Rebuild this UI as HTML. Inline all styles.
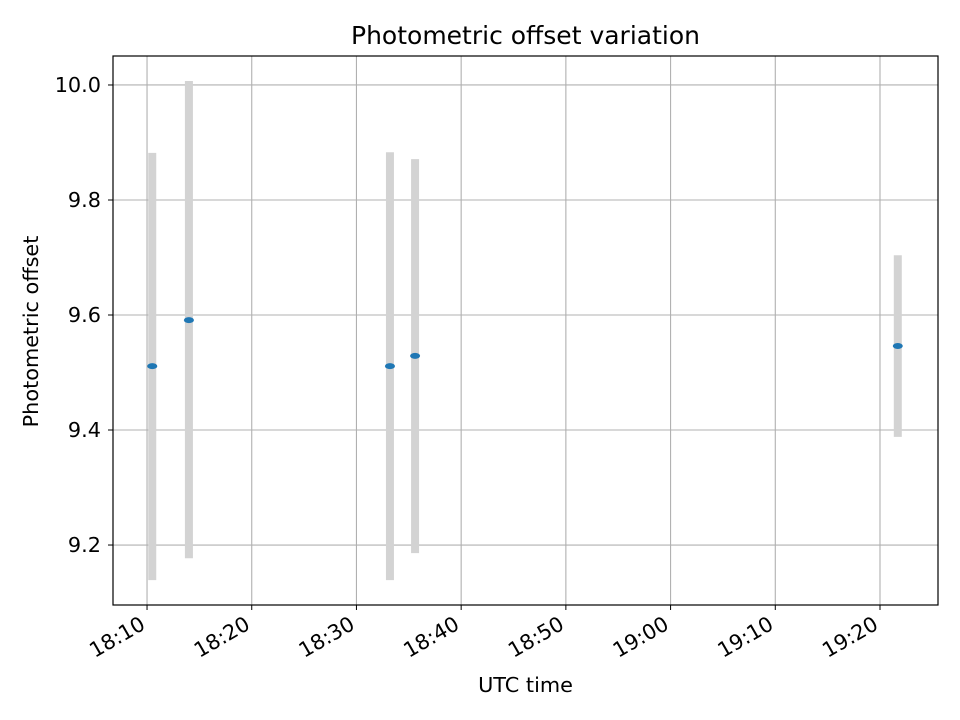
<!DOCTYPE html>
<html><head><meta charset="utf-8"><style>
body{margin:0;background:#fff;}
svg{display:block;font-family:"DejaVu Sans","Liberation Sans",sans-serif;}
</style></head><body>
<svg id="chart" width="960" height="720"></svg>
<script>
const times=[10.5,14.0,33.2,35.6,81.7]; // minutes after 18:00
const offsets=[9.511,9.591,9.511,9.529,9.546];
const lowers=[9.139,9.177,9.139,9.186,9.388];
const uppers=[9.882,10.007,9.883,9.871,9.704];
const xTicks=[10,20,30,40,50,60,70,80];
const xTickLabels=["18:10","18:20","18:30","18:40","18:50","19:00","19:10","19:20"];
const yTicks=[9.2,9.4,9.6,9.8,10.0];
const yTickLabels=["9.2","9.4","9.6","9.8","10.0"];

const L=113,R=938,T=56,B=605;
const xMin=6.75,xMax=85.54,yMin=9.0957,yMax=10.0504;
const sx=v=>L+(v-xMin)/(xMax-xMin)*(R-L);
const sy=v=>B-(v-yMin)/(yMax-yMin)*(B-T);
const NS="http://www.w3.org/2000/svg";
const svg=document.getElementById('chart');
function mk(tag,attrs,parent){const e=document.createElementNS(NS,tag);for(const k in attrs)e.setAttribute(k,attrs[k]);(parent||svg).appendChild(e);return e;}

xTicks.forEach((t,i)=>{const x=sx(t);
 const g=mk('line',{x1:x,x2:x,y1:T,y2:B,stroke:'#b0b0b0','stroke-width':1.1});
 
 
 const tk=mk('line',{x1:x,x2:x,y1:B,y2:B+5,stroke:'#000','stroke-width':1});
 
 
 const ax=x-8, ay=B+10;
 const tx=mk('text',{x:ax,y:ay,'font-size':20.8,'text-anchor':'end',transform:`rotate(-30 ${ax} ${ay})`,'dominant-baseline':'hanging'});
 tx.textContent=xTickLabels[i];
 
 
});
yTicks.forEach((t,i)=>{const y=sy(t);
 const g=mk('line',{x1:L,x2:R,y1:y,y2:y,stroke:'#b0b0b0','stroke-width':1.1});
 
 
 const tk=mk('line',{x1:L-5,x2:L,y1:y,y2:y,stroke:'#000','stroke-width':1});
 
 
 const tx=mk('text',{x:L-12,y:y+7,'font-size':20.8,'text-anchor':'end'});
 tx.textContent=yTickLabels[i];
 
 
});
times.forEach((t,i)=>{const x=sx(t);
 const eb=mk('line',{x1:x,x2:x,y1:sy(uppers[i]),y2:sy(lowers[i]),stroke:'#d3d3d3','stroke-width':8});
 
 
});
times.forEach((t,i)=>{
 const p=mk('ellipse',{cx:sx(t),cy:sy(offsets[i]),rx:5,ry:3,fill:'#1f77b4'});
 
 
});
const fr=mk('rect',{x:L,y:T,width:R-L,height:B-T,fill:'none',stroke:'#000','stroke-width':1.2});


const ti=mk('text',{x:(L+R)/2,y:44,'font-size':25,'text-anchor':'middle'});
ti.textContent='Photometric offset variation';


const xl=mk('text',{x:(L+R)/2,y:692,'font-size':20.8,'text-anchor':'middle'});
xl.textContent='UTC time';


const yc=(T+B)/2+1;
const yl=mk('text',{x:38,y:yc,'font-size':20.8,'text-anchor':'middle',transform:`rotate(-90 38 ${yc})`});
yl.textContent='Photometric offset';


</script>
</body></html>
